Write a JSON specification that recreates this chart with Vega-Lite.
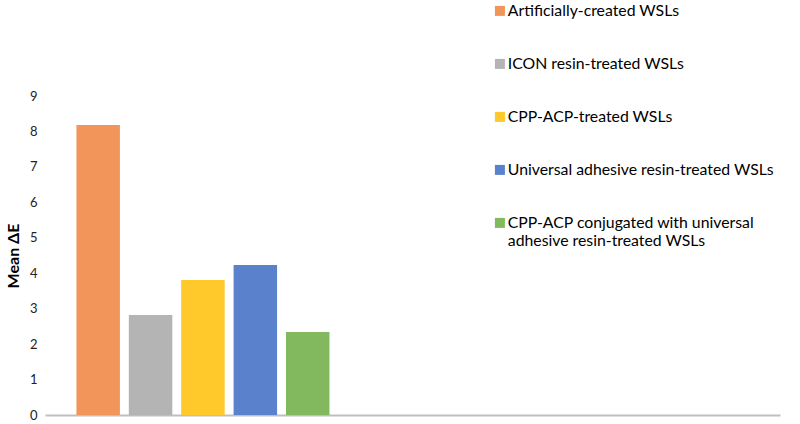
{
  "$schema": "https://vega.github.io/schema/vega-lite/v6.json",
  "width": 735,
  "height": 319,
  "autosize": {"type": "none"},
  "padding": {"left": 45, "top": 96, "right": 20, "bottom": 9},
  "background": "white",
  "config": {"view": {"stroke": null}, "font": "Lato"},
  "data": {"values": [
    {"group": "Artificially-created WSLs", "meanDE": 8.18},
    {"group": "ICON resin-treated WSLs", "meanDE": 2.82},
    {"group": "CPP-ACP-treated WSLs", "meanDE": 3.81},
    {"group": "Universal adhesive resin-treated WSLs", "meanDE": 4.23},
    {"group": "CPP-ACP conjugated with universal adhesive resin-treated WSLs", "meanDE": 2.34}
  ]},
  "mark": {"type": "bar"},
  "encoding": {
    "x": {
      "field": "group", "type": "nominal",
      "scale": {
        "domain": ["Artificially-created WSLs", "ICON resin-treated WSLs", "CPP-ACP-treated WSLs", "Universal adhesive resin-treated WSLs", "CPP-ACP conjugated with universal adhesive resin-treated WSLs", "e1", "e2", "e3", "e4", "e5", "e6", "e7", "e8"],
        "paddingInner": 0.17, "paddingOuter": 0.6
      },
      "axis": {"title": null, "labels": false, "ticks": false, "domainColor": "#bfbfbf", "domainWidth": 2}
    },
    "y": {
      "field": "meanDE", "type": "quantitative",
      "scale": {"domain": [0, 9]},
      "axis": {
        "title": "Mean ΔE", "titleFontSize": 16, "titleFontWeight": "bold", "titleColor": "black", "titlePadding": 8,
        "values": [0, 1, 2, 3, 4, 5, 6, 7, 8, 9],
        "grid": false, "domain": false, "ticks": false,
        "labelPadding": 8, "labelFontSize": 13, "labelColor": "#222222"
      }
    },
    "color": {
      "field": "group", "type": "nominal",
      "scale": {
        "domain": ["Artificially-created WSLs", "ICON resin-treated WSLs", "CPP-ACP-treated WSLs", "Universal adhesive resin-treated WSLs", "CPP-ACP conjugated with universal adhesive resin-treated WSLs"],
        "range": ["#F2955A", "#B4B4B4", "#FFC82B", "#5A82CC", "#82B85E"]
      },
      "legend": {
        "orient": "none", "legendX": 447, "legendY": -93,
        "title": null, "symbolType": "square", "symbolSize": 100, "symbolStrokeWidth": 0,
        "labelFontSize": 15.8, "labelColor": "black", "labelOffset": 0, "labelLimit": 400,
        "rowPadding": 36,
        "labelExpr": "datum.label == 'CPP-ACP conjugated with universal adhesive resin-treated WSLs' ? ['CPP-ACP conjugated with universal', 'adhesive resin-treated WSLs'] : datum.label"
      }
    }
  }
}
